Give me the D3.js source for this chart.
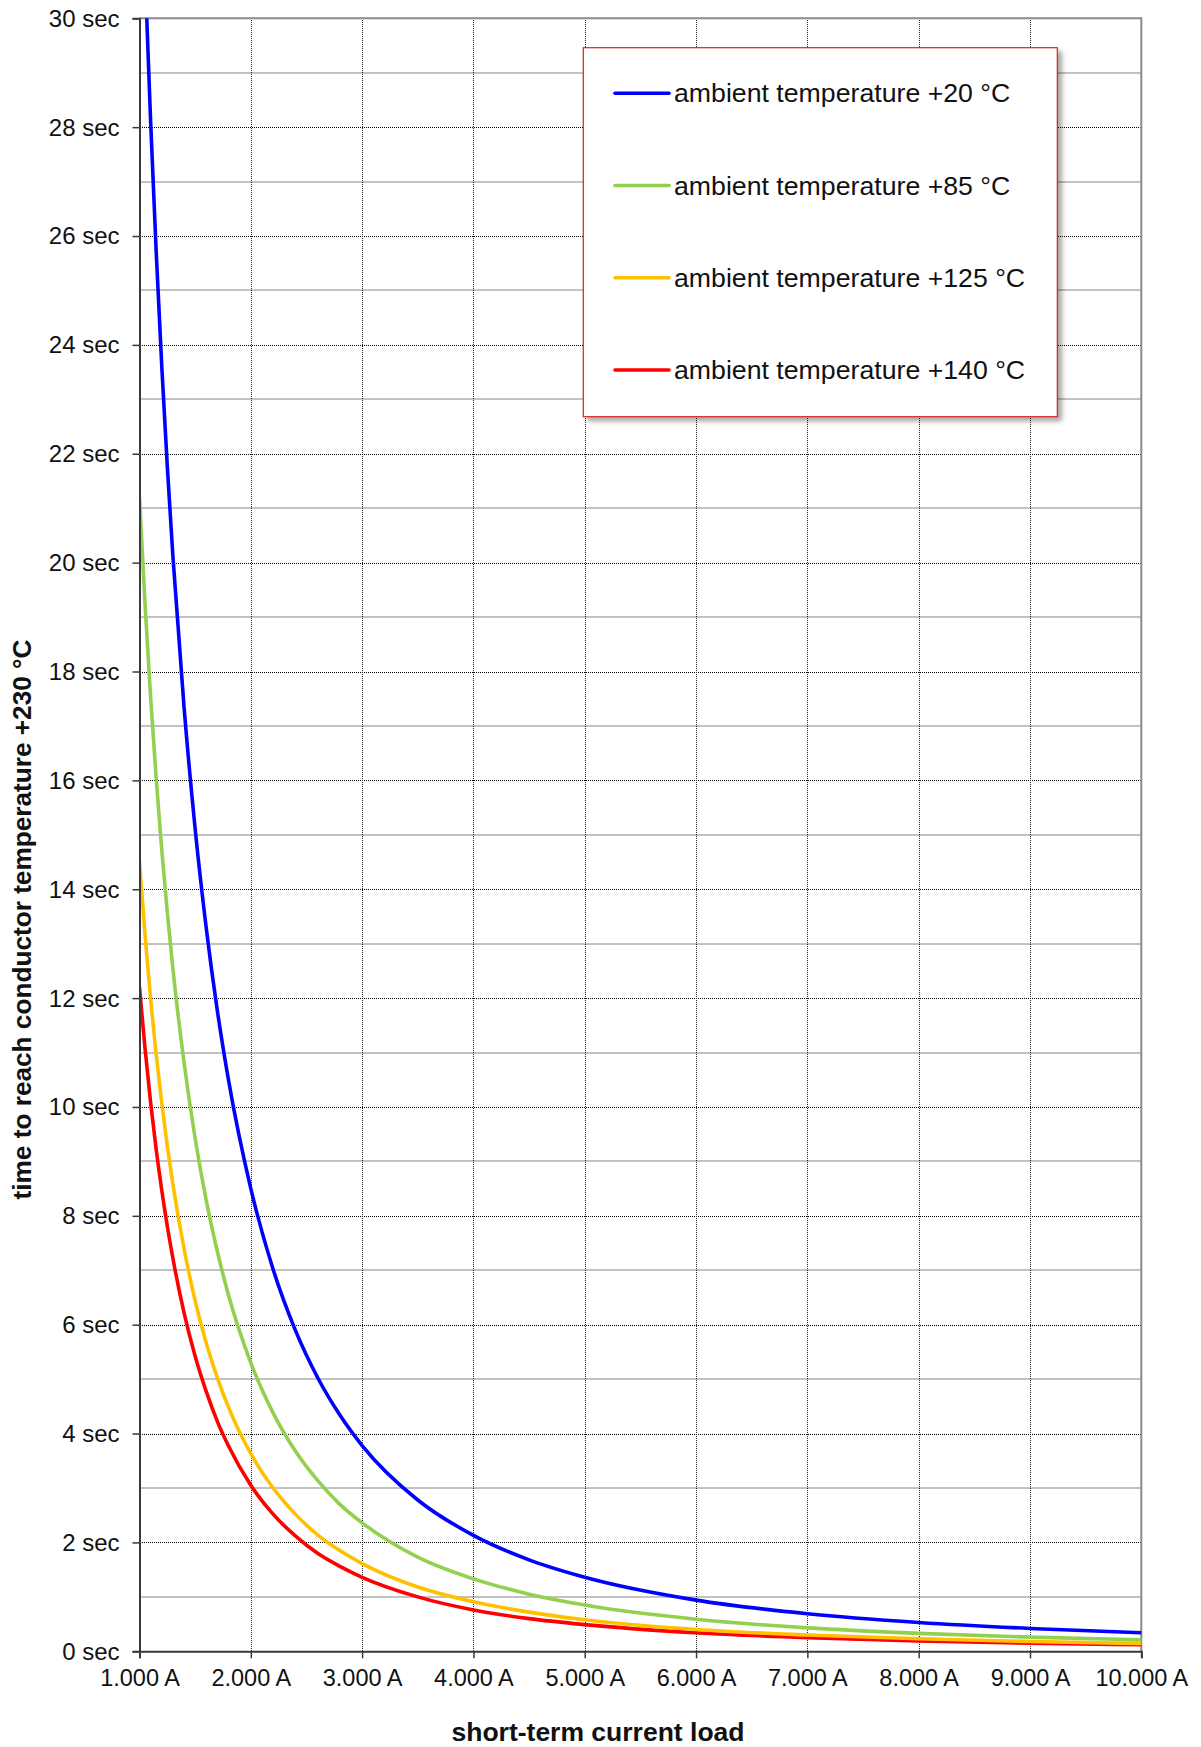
<!DOCTYPE html>
<html>
<head>
<meta charset="utf-8">
<script src="https://cdn.jsdelivr.net/npm/d3@7"></script>
<style>
  html, body { margin: 0; padding: 0; background: #fff; }
  svg { display: block; font-family: "Liberation Sans", Arial, sans-serif; }
</style>
</head>
<body>
<svg id="chart" width="1201" height="1747"></svg>
<script>
// Short-term current load (A)
const currents = [1000, 1050, 1100, 1150, 1200, 1250, 1300, 1400, 1500, 1600, 1700, 1800,
                  2000, 2200, 2400, 2600, 2800, 3000, 3500, 4000, 4500, 5000,
                  6000, 7000, 8000, 9000, 10000];

// Time (sec) to reach conductor temperature +230 °C, one list per ambient temperature
const ambient20  = [null, 30.84, 28.10, 25.71, 23.61, 21.76, 20.12, 17.35, 15.11, 13.28, 11.76, 10.49,
                    8.50, 7.02, 5.90, 5.03, 4.34, 3.78, 2.78, 2.13, 1.68, 1.36,
                    0.94, 0.69, 0.53, 0.42, 0.34];
const ambient85  = [21.20, 19.23, 17.52, 16.03, 14.72, 13.57, 12.54, 10.82, 9.42, 8.28, 7.34, 6.54,
                    5.30, 4.38, 3.68, 3.14, 2.70, 2.36, 1.73, 1.33, 1.05, 0.85,
                    0.59, 0.43, 0.33, 0.26, 0.21];
const ambient125 = [14.50, 13.15, 11.98, 10.96, 10.07, 9.28, 8.58, 7.40, 6.44, 5.66, 5.02, 4.48,
                    3.63, 3.00, 2.52, 2.14, 1.85, 1.61, 1.18, 0.91, 0.72, 0.58,
                    0.40, 0.30, 0.23, 0.18, 0.145];
const ambient140 = [12.20, 11.07, 10.08, 9.22, 8.47, 7.81, 7.22, 6.22, 5.42, 4.77, 4.22, 3.77,
                    3.05, 2.52, 2.12, 1.80, 1.56, 1.36, 1.00, 0.76, 0.60, 0.49,
                    0.34, 0.25, 0.19, 0.15, 0.12];

const seriesLabels = ["ambient temperature +20 °C", "ambient temperature +85 °C",
                      "ambient temperature +125 °C", "ambient temperature +140 °C"];
const seriesColors = ["#0000ff", "#92d050", "#ffc000", "#ff0000"];
const seriesValues = [ambient20, ambient85, ambient125, ambient140];

const xTicks = [1000, 2000, 3000, 4000, 5000, 6000, 7000, 8000, 9000, 10000];
const yMajorTicks = [0, 2, 4, 6, 8, 10, 12, 14, 16, 18, 20, 22, 24, 26, 28, 30];
const yMinorTicks = [1, 3, 5, 7, 9, 11, 13, 15, 17, 19, 21, 23, 25, 27, 29];

const xTitle = "short-term current load";
const yTitle = "time to reach conductor temperature +230 °C";

// Plot geometry
const plot = { left: 139.5, right: 1141.3, top: 18.3, bottom: 1651.3 };

const svg = d3.select("#chart");
const x = d3.scaleLinear().domain([1000, 10000]).range([plot.left, plot.right]);
const y = d3.scaleLinear().domain([0, 30]).range([plot.bottom, plot.top]);
const crisp = v => Math.round(v) + 0.5;

const de = d3.formatLocale({ decimal: ",", thousands: ".", grouping: [3], currency: ["", ""] });
const fmtA = de.format(",");

const defs = svg.append("defs");
defs.append("clipPath").attr("id", "plotClip")
  .append("rect")
  .attr("x", plot.left).attr("y", plot.top)
  .attr("width", plot.right - plot.left + 3).attr("height", plot.bottom - plot.top);
const shadow = defs.append("filter").attr("id", "legendShadow")
  .attr("x", "-5%").attr("y", "-5%").attr("width", "115%").attr("height", "115%");
shadow.append("feDropShadow")
  .attr("dx", 4).attr("dy", 4).attr("stdDeviation", 2.5)
  .attr("flood-color", "#000").attr("flood-opacity", 0.35);

// Minor horizontal grid (odd seconds)
svg.append("g").selectAll("line").data(yMinorTicks).join("line")
  .attr("x1", plot.left).attr("x2", plot.right)
  .attr("y1", d => Math.round(y(d))).attr("y2", d => Math.round(y(d)))
  .attr("stroke", "#c2c2c2").attr("stroke-width", 2)
  .attr("shape-rendering", "crispEdges");

// Major horizontal grid (even seconds)
svg.append("g").selectAll("line").data(yMajorTicks.filter(d => d > 0 && d < 30)).join("line")
  .attr("x1", plot.left).attr("x2", plot.right)
  .attr("y1", d => crisp(y(d))).attr("y2", d => crisp(y(d)))
  .attr("stroke", "#000").attr("stroke-width", 1).attr("stroke-dasharray", "1,1")
  .attr("shape-rendering", "crispEdges");

// Vertical grid
svg.append("g").selectAll("line").data(xTicks.filter(d => d > 1000 && d < 10000)).join("line")
  .attr("x1", d => crisp(x(d))).attr("x2", d => crisp(x(d)))
  .attr("y1", plot.top).attr("y2", plot.bottom)
  .attr("stroke", "#222").attr("stroke-width", 1).attr("stroke-dasharray", "1,1")
  .attr("shape-rendering", "crispEdges");

// Plot frame: top and right in grey
svg.append("path")
  .attr("d", `M${plot.left},${plot.top}H${plot.right}V${plot.bottom}`)
  .attr("fill", "none").attr("stroke", "#8a8a8a").attr("stroke-width", 2);

// Curves
const line = d3.line()
  .defined(d => d[1] != null)
  .x(d => x(d[0])).y(d => y(d[1]))
  .curve(d3.curveMonotoneX);

svg.append("g").attr("clip-path", "url(#plotClip)")
  .selectAll("path").data(seriesValues.map((vals, i) => ({ vals, i })).reverse()).join("path")
  .attr("d", s => line(currents.map((c, k) => [c, s.vals[k]])))
  .attr("fill", "none")
  .attr("stroke", s => seriesColors[s.i])
  .attr("stroke-width", 3.6);

// Y axis
const yAxis = d3.axisLeft(y).tickValues(yMajorTicks).tickSize(7).tickPadding(13)
  .tickFormat(d => `${d} sec`);
const gy = svg.append("g").attr("transform", `translate(${plot.left},0)`).call(yAxis);
gy.select(".domain").attr("stroke", "#3a3a3a").attr("stroke-width", 2);
gy.selectAll(".tick line").attr("stroke", "#3a3a3a").attr("stroke-width", 1.5);
gy.selectAll(".tick text").attr("font-size", 24).attr("fill", "#111")
  .attr("font-family", "Liberation Sans, Arial, sans-serif").attr("dy", "0.33em");

// X axis
const xAxis = d3.axisBottom(x).tickValues(xTicks).tickSize(7).tickPadding(11)
  .tickFormat(d => `${fmtA(d)} A`);
const gx = svg.append("g").attr("transform", `translate(0,${plot.bottom})`).call(xAxis);
gx.select(".domain").attr("stroke", "#3a3a3a").attr("stroke-width", 2);
gx.selectAll(".tick line").attr("stroke", "#3a3a3a").attr("stroke-width", 1.5);
gx.selectAll(".tick text").attr("font-size", 23.5).attr("fill", "#111")
  .attr("font-family", "Liberation Sans, Arial, sans-serif");

// Axis titles
svg.append("text")
  .attr("x", 598).attr("y", 1741)
  .attr("text-anchor", "middle")
  .attr("font-size", 26.5).attr("font-weight", "bold").attr("fill", "#111")
  .text(xTitle);

svg.append("text")
  .attr("transform", "translate(31,919.5) rotate(-90)")
  .attr("text-anchor", "middle")
  .attr("font-size", 26.2).attr("font-weight", "bold").attr("fill", "#111")
  .text(yTitle);

// Legend
const legend = svg.append("g");
legend.append("rect")
  .attr("x", 583.3).attr("y", 47.7).attr("width", 474).attr("height", 369)
  .attr("fill", "#fff").attr("stroke", "#d92020").attr("stroke-width", 1.2)
  .attr("filter", "url(#legendShadow)");

const rowY = d3.scalePoint().domain(d3.range(seriesLabels.length)).range([93.3, 370]);
const rows = legend.selectAll("g.row").data(seriesLabels).join("g")
  .attr("class", "row")
  .attr("transform", (d, i) => `translate(0,${rowY(i)})`);
rows.append("line")
  .attr("x1", 615).attr("x2", 669).attr("y1", 0).attr("y2", 0)
  .attr("stroke", (d, i) => seriesColors[i]).attr("stroke-width", 3.6)
  .attr("stroke-linecap", "round");
rows.append("text")
  .attr("x", 674).attr("y", 9)
  .attr("font-size", 26.7).attr("fill", "#111")
  .text(d => d);
</script>
</body>
</html>
